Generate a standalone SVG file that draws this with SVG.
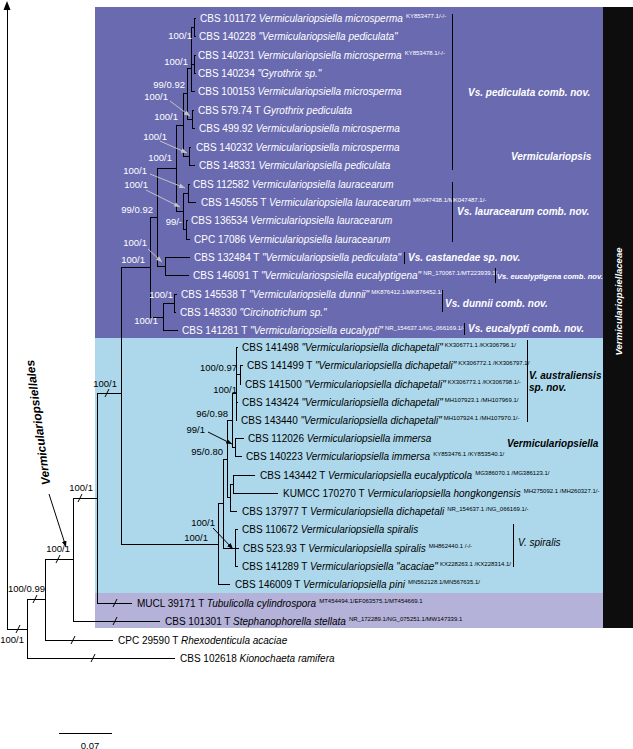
<svg xmlns="http://www.w3.org/2000/svg" width="633" height="749" viewBox="0 0 633 749">
<defs>
<style>
text { font-family: 'Liberation Sans', Arial, sans-serif; font-size: 10px; }
.w { fill: #fff; }
.k { fill: #000; }
.i { font-style: italic; }
.sup { font-size: 6px; font-style: normal; }
.s { font-size: 9.5px; text-anchor: end; }
.cl { font-weight: bold; font-style: italic; }
.tree { fill: none; stroke: #000; stroke-width: 1; shape-rendering: crispEdges; }
.tick { fill: none; stroke: #000; stroke-width: 1; }
.ga { fill: none; stroke: #c4c4c4; stroke-width: 1; marker-end: url(#mg); }
.ba { fill: none; stroke: #000; stroke-width: 1; marker-end: url(#mb); }
.bar { stroke-width: 1; shape-rendering: crispEdges; }
</style>
<marker id="mg" viewBox="0 0 10 10" refX="10" refY="5" markerWidth="6" markerHeight="6" markerUnits="userSpaceOnUse" orient="auto"><path d="M0,1 L10,5 L0,9 z" fill="#c4c4c4"/></marker>
<marker id="mb" viewBox="0 0 10 10" refX="10" refY="5" markerWidth="6" markerHeight="6" markerUnits="userSpaceOnUse" orient="auto"><path d="M0,1 L10,5 L0,9 z" fill="#000"/></marker>
</defs>

<g id="backgrounds">
<rect x="95" y="7" width="508" height="331" fill="#6a6ab0"/>
<rect x="95" y="338" width="508" height="255" fill="#add8eb"/>
<rect x="95" y="593" width="508" height="35" fill="#b4b2d8"/>
<rect x="603" y="7" width="30" height="621" fill="#0d0d0d"/>
</g>

<g id="connectors">
<path class="tree" d="M194,18V36M194,18H196M194,36H196 M194,55V73M194,55H196M194,73H196 M191,27V91M191,27H194M191,64H194M191,91H195 M192,110V128M192,110H194M192,128H195 M187,68V119M187,68H191M187,119H192 M189,147V165M189,147H191M189,165H195 M183,93V156M183,93H187M183,156H189 M188,184V202M188,184H190M188,202H196 M186,220V239M186,220H188M186,239H190 M183,193V229M183,193H188M183,229H186 M176,125V211M176,125H183M176,211H183 M165,257V275M165,257H190M165,275H189 M157,168V266M157,168H176M157,266H165 M174,294V312M174,294H177M174,312H176 M163,303V330M163,303H174M163,330H178 M150,217V317M150,217H157M150,317H163 M121,267V544M121,267H150M121,544H218M97,393H121"/>
<path class="tree" d="M240,365V384M240,365H243M240,384H241 M236,347V420M236,347H238M236,374H240M236,402H238M236,420H237 M235,438V456M235,438H244M235,456H242 M232,393V447M232,393H236M232,447H235 M233,475V493M233,475H255M233,493H278 M230,484V511M230,484H233M230,511H237 M227,420V497M227,420H232M227,497H230 M235,529V566M235,529H238M235,548H239M235,566H238 M223,459V548M223,459H227M223,548H235 M218,503V584M218,503H223M218,584H230"/>
<path class="tree" d="M97,393V603M97,603H132 M73,498V621M73,498H97M73,621H160 M45,559V640M45,559H73M45,640H113 M27,599V658M27,599H45M27,658H175M7,629H27 M7,629V8"/>
<polygon points="7,1 3.5,10 10.5,10" fill="#000"/>
<path class="tick" d="M105,397L109,389 M78,502L82,494 M56,563L60,555 M33,603L37,595 M16,633L20,625 M113,607L117,599 M113,625L117,617 M71,644L75,636 M91,662L95,654"/>
<line class="ga" x1="170" y1="101" x2="190" y2="116"/>
<line class="ga" x1="160" y1="141" x2="187" y2="153"/>
<line class="ga" x1="150" y1="174" x2="185" y2="188"/>
<line class="ga" x1="146" y1="190" x2="180" y2="207"/>
<line class="ga" x1="148" y1="249" x2="162" y2="262"/>
<line class="ba" x1="208" y1="432" x2="232" y2="444"/>
<line class="ba" x1="213" y1="528" x2="233" y2="549"/>
<line class="ba" x1="49" y1="494" x2="66" y2="547"/>
</g>

<g id="tips">
<g id="tip01" class="w"><text x="200" y="21.5">CBS 101172 <tspan class="i">Vermiculariopsiella microsperma</tspan><tspan class="sup" dx="3" dy="-4">KY853477.1/-/-</tspan></text></g>
<g id="tip02" class="w"><text x="199" y="39.5">CBS 140228 <tspan class="i">"Vermiculariopsiella pediculata"</tspan></text></g>
<g id="tip03" class="w"><text x="198" y="58.5">CBS 140231 <tspan class="i">Vermiculariopsiella microsperma</tspan><tspan class="sup" dx="3" dy="-4">KY853478.1/-/-</tspan></text></g>
<g id="tip04" class="w"><text x="198" y="76.5">CBS 140234 <tspan class="i">"Gyrothrix sp."</tspan></text></g>
<g id="tip05" class="w"><text x="198" y="94.5">CBS 100153 <tspan class="i">Vermiculariopsiella microsperma</tspan></text></g>
<g id="tip06" class="w"><text x="198" y="113.5">CBS 579.74 T <tspan class="i">Gyrothrix pediculata</tspan></text></g>
<g id="tip07" class="w"><text x="199" y="131.5">CBS 499.92 <tspan class="i">Vermiculariopsiella microsperma</tspan></text></g>
<g id="tip08" class="w"><text x="196" y="150.5">CBS 140232 <tspan class="i">Vermiculariopsiella microsperma</tspan></text></g>
<g id="tip09" class="w"><text x="199" y="168.5">CBS 148331 <tspan class="i">Vermiculariopsiella pediculata</tspan></text></g>
<g id="tip10" class="w"><text x="193" y="187.5">CBS 112582 <tspan class="i">Vermiculariopsiella lauracearum</tspan></text></g>
<g id="tip11" class="w"><text x="201" y="205.5">CBS 145055 T <tspan class="i">Vermiculariopsiella lauracearum</tspan><tspan class="sup" dx="2" dy="-4">MK047438.1/MK047487.1/-</tspan></text></g>
<g id="tip12" class="w"><text x="191" y="223.5">CBS 136534 <tspan class="i">Vermiculariopsiella lauracearum</tspan></text></g>
<g id="tip13" class="w"><text x="194" y="242.5">CPC 17086 <tspan class="i">Vermiculariopsiella lauracearum</tspan></text></g>
<g id="tip14" class="w"><text x="194" y="260.5">CBS 132484 T <tspan class="i">"Vermiculariopsiella pediculata"</tspan></text></g>
<g id="tip15" class="w"><text x="193" y="278.5">CBS 146091 T <tspan class="i">"Vermiculariospsiella eucalyptigena"</tspan><tspan class="sup" dx="2" dy="-4">NR_170067.1/MT223939.1/</tspan></text></g>
<g id="tip16" class="w"><text x="181" y="297.5">CBS 145538 T <tspan class="i">"Vermiculariopsiella dunnii"</tspan><tspan class="sup" dx="2" dy="-4">MK876412.1/MK876452.1/</tspan></text></g>
<g id="tip17" class="w"><text x="180" y="315.5">CBS 148330 <tspan class="i">"Circinotrichum sp."</tspan></text></g>
<g id="tip18" class="w"><text x="182" y="333.5">CBS 141281 T <tspan class="i">"Vermiculariopsiella eucalypti"</tspan><tspan class="sup" dx="2" dy="-4">NR_154637.1/NG_066169.1/-</tspan></text></g>
<g id="tip19" class="k"><text x="242" y="350.5">CBS 141498 <tspan class="i">"Vermiculariopsiella dichapetali"</tspan><tspan class="sup" dx="2" dy="-4">KX306771.1 /KX306796.1/</tspan></text></g>
<g id="tip20" class="k"><text x="247" y="368.5">CBS 141499 T <tspan class="i">"Vermiculariopsiella dichapetali"</tspan><tspan class="sup" dx="2" dy="-4">KX306772.1 /KX306797.1/</tspan></text></g>
<g id="tip21" class="k"><text x="245" y="387.5">CBS 141500 <tspan class="i">"Vermiculariopsiella dichapetali"</tspan><tspan class="sup" dx="2" dy="-4">KX306773.1 /KX306798.1/-</tspan></text></g>
<g id="tip22" class="k"><text x="242" y="405.5">CBS 143424 <tspan class="i">"Vermiculariopsiella dichapetali"</tspan><tspan class="sup" dx="2" dy="-4">MH107923.1 /MH107969.1/</tspan></text></g>
<g id="tip23" class="k"><text x="241" y="423.5">CBS 143440 <tspan class="i">"Vermiculariopsiella dichapetali"</tspan><tspan class="sup" dx="2" dy="-4">MH107924.1 /MH107970.1/-</tspan></text></g>
<g id="tip24" class="k"><text x="248" y="441.5">CBS 112026 <tspan class="i">Vermiculariopsiella immersa</tspan></text></g>
<g id="tip25" class="k"><text x="246" y="459.5">CBS 140223 <tspan class="i">Vermiculariopsiella immersa</tspan><tspan class="sup" dx="3" dy="-4">KY853476.1 /KY853540.1/</tspan></text></g>
<g id="tip26" class="k"><text x="260" y="478.5">CBS 143442 T <tspan class="i">Vermiculariopsiella eucalypticola</tspan><tspan class="sup" dx="3" dy="-4">MG386070.1 /MG386123.1/</tspan></text></g>
<g id="tip27" class="k"><text x="283" y="496.5">KUMCC 170270 T <tspan class="i">Vermiculariopsiella hongkongensis</tspan><tspan class="sup" dx="3" dy="-4">MH275092.1 /MH260327.1/-</tspan></text></g>
<g id="tip28" class="k"><text x="242" y="514.5">CBS 137977 T <tspan class="i">Vermiculariopsiella dichapetali</tspan><tspan class="sup" dx="3" dy="-4">NR_154637.1 /NG_066169.1/-</tspan></text></g>
<g id="tip29" class="k"><text x="242" y="532.5">CBS 110672 <tspan class="i">Vermiculariopsiella spiralis</tspan></text></g>
<g id="tip30" class="k"><text x="243" y="551.5">CBS 523.93 T <tspan class="i">Vermiculariopsiella spiralis</tspan><tspan class="sup" dx="3" dy="-4">MH862440.1 /-/-</tspan></text></g>
<g id="tip31" class="k"><text x="242" y="569.5">CBS 141289 T <tspan class="i">Vermiculariopsiella "acaciae"</tspan><tspan class="sup" dx="2" dy="-4">KX228263.1 /KX228314.1/</tspan></text></g>
<g id="tip32" class="k"><text x="235" y="587.5">CBS 146009 T <tspan class="i">Vermiculariopsiella pini</tspan><tspan class="sup" dx="3" dy="-4">MN562128.1/MN567635.1/</tspan></text></g>
<g id="tip33" class="k"><text x="137" y="606.5">MUCL 39171 T <tspan class="i">Tubulicolla cylindrospora</tspan><tspan class="sup" dx="3" dy="-4">MT454494.1/EF063575.1/MT454669.1</tspan></text></g>
<g id="tip34" class="k"><text x="165" y="624.5">CBS 101301 T <tspan class="i">Stephanophorella stellata</tspan><tspan class="sup" dx="3" dy="-4">NR_172289.1/NG_075251.1/MW147339.1</tspan></text></g>
<g id="tip35" class="k"><text x="118" y="643.5">CPC 29590 T <tspan class="i">Rhexodenticula acaciae</tspan></text></g>
<g id="tip36" class="k"><text x="180" y="661.5">CBS 102618 <tspan class="i">Kionochaeta ramifera</tspan></text></g>
</g>

<g id="support">
<g class="w">
<text class="s" x="192" y="39.3">100/1</text>
<text class="s" x="188" y="65.3">100/1</text>
<text class="s" x="185" y="88.3">99/0.92</text>
<text class="s" x="168" y="100.3">100/1</text>
<text class="s" x="178" y="120.3">100/1</text>
<text class="s" x="167" y="140.3">100/1</text>
<text class="s" x="172" y="161.3">100/1</text>
<text class="s" x="147" y="174.3">100/1</text>
<text class="s" x="148" y="188.3">100/1</text>
<text class="s" x="153" y="213.3">99/0.92</text>
<text class="s" x="182" y="225.3">99/-</text>
<text class="s" x="147" y="246.3">100/1</text>
<text class="s" x="145" y="263.3">100/1</text>
<text class="s" x="173" y="298.3">100/1</text>
<text class="s" x="158" y="324.3">100/1</text>
</g>
<g class="k">
<text class="s" x="237" y="371.3">100/0.97</text>
<text class="s" x="237" y="393.3">100/1</text>
<text class="s" x="228" y="417.3">96/0.98</text>
<text class="s" x="205" y="433.3">99/1</text>
<text class="s" x="223" y="455.3">95/0.80</text>
<text class="s" x="215" y="526.3">100/1</text>
<text class="s" x="208" y="541.3">100/1</text>
<text class="s" x="117" y="387.3">100/1</text>
<text class="s" x="93" y="491.3">100/1</text>
<text class="s" x="70" y="552.3">100/1</text>
<text class="s" x="45" y="592.3">100/0.99</text>
<text class="s" x="24" y="643.3">100/1</text>
</g>
</g>

<g id="clade-pediculata"><line class="bar" x1="452" y1="14" x2="452" y2="170" stroke="#000"/><text class="cl w" x="468" y="95.5">Vs. pediculata comb. nov.</text></g>
<g id="genus-vermiculariopsis"><text class="cl w" x="511" y="159.5">Vermiculariopsis</text></g>
<g id="clade-lauracearum"><line class="bar" x1="452" y1="182" x2="452" y2="242" stroke="#000"/><text class="cl w" x="457" y="214.5">Vs. lauracearum comb. nov.</text></g>
<g id="clade-castanedae"><line class="bar" x1="404" y1="252" x2="404" y2="264" stroke="#000"/><text class="cl w" x="408" y="260.5">Vs. castanedae sp. nov.</text></g>
<g id="clade-eucalyptigena"><line class="bar" x1="495" y1="268" x2="495" y2="283" stroke="#000"/><text class="cl w" x="497" y="278.8" style="font-size:7.6px">Vs. eucalyptigena comb. nov.</text></g>
<g id="clade-dunnii"><line class="bar" x1="442" y1="290" x2="442" y2="312" stroke="#000"/><text class="cl w" x="445" y="306.5">Vs. dunnii comb. nov.</text></g>
<g id="clade-eucalypti"><line class="bar" x1="464" y1="323" x2="464" y2="335" stroke="#000"/><text class="cl w" x="468" y="331.5">Vs. eucalypti comb. nov.</text></g>
<g id="clade-australiensis"><line class="bar" x1="527" y1="340" x2="527" y2="422" stroke="#000"/><text class="cl k" x="529" y="378.5">V. australiensis</text><text class="cl k" x="529" y="390.5">sp. nov.</text></g>
<g id="genus-vermiculariopsiella"><text class="cl k" x="507" y="446.5">Vermiculariopsiella</text></g>
<g id="clade-spiralis"><line class="bar" x1="513" y1="524" x2="513" y2="567" stroke="#000"/><text class="i k" x="518" y="545.5">V. spiralis</text></g>
<g id="family-label"><text class="cl w" x="622" y="301.5" text-anchor="middle" style="font-size:9.5px" transform="rotate(-90 622 301.5)">Vermiculariopsiellaceae</text></g>
<g id="order-label"><text class="cl k" x="42" y="422" text-anchor="middle" style="font-size:12px" transform="rotate(-97.5 42 422)">Vermiculariopsiellales</text></g>
<g id="scale-bar"><line x1="59" y1="733" x2="112" y2="733" stroke="#000" stroke-width="1" shape-rendering="crispEdges"/><text class="k" x="90" y="748.5" text-anchor="middle" style="font-size:9.5px">0.07</text></g>
</svg>
